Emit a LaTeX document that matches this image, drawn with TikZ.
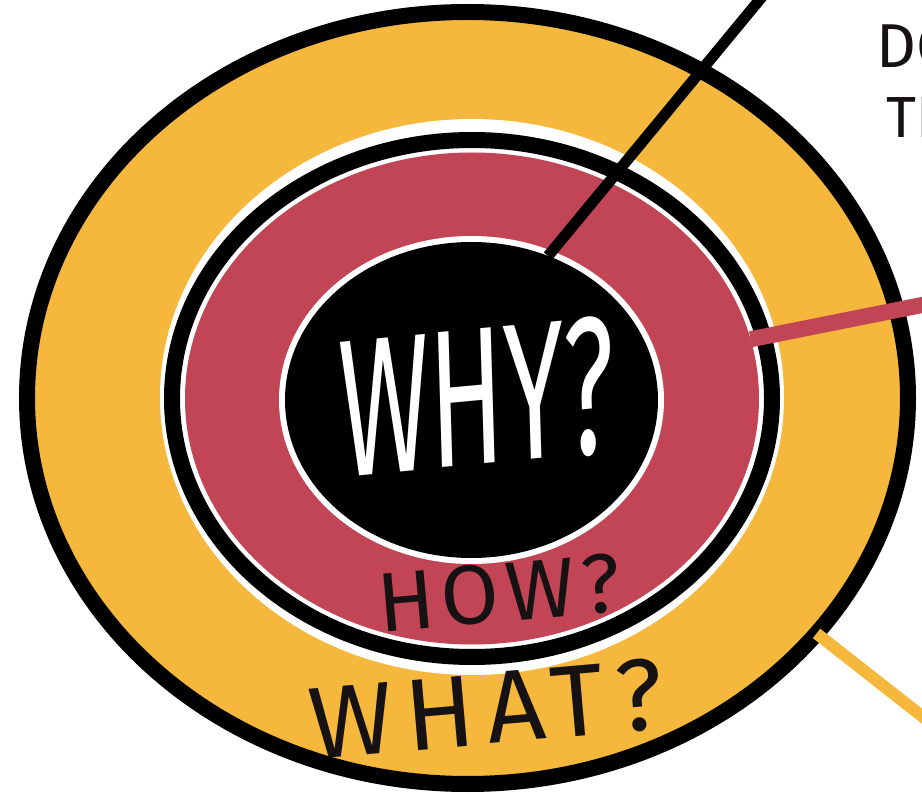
\documentclass[tikz,border=0pt]{standalone}
\usepackage{fontspec}
\setmainfont{Fira Sans}
\usetikzlibrary{shapes.geometric}
\definecolor{whatcolor}{HTML}{F6B83C}
\definecolor{howcolor}{HTML}{C24556}
\definecolor{inkcolor}{HTML}{161213}

\begin{document}
\begin{tikzpicture}[x=1pt, y=-1pt,
    ring/.style={ellipse, inner sep=0pt, outer sep=0pt},
    rim/.style={draw=black, line width=16pt},
    lbl/.style={inkcolor, inner sep=0pt}]
  \useasboundingbox (0,0) rectangle (922,794);
  \clip (0,0) rectangle (922,794);
  % rings, from outside in
  \node[ring, rim, fill=whatcolor, minimum width=881pt, minimum height=772pt] (what) at (467.5,398) {};
  \node[ring, fill=white, minimum width=624pt, minimum height=556pt] (gapout) at (472,397) {};
  \node[ring, rim, fill=white, minimum width=600pt, minimum height=517pt] (howrim) at (472,398.5) {};
  \node[ring, fill=howcolor, minimum width=574pt, minimum height=492pt] (how) at (472,398.5) {};
  \node[ring, fill=white, minimum width=385pt, minimum height=328pt] (gapin) at (471.5,400) {};
  \node[ring, fill=black, minimum width=373pt, minimum height=316pt] (why) at (471.5,400) {};
  % leader lines
  \coordinate (whyend) at (766,-8);
  \coordinate (howend) at (932,303);
  \coordinate (whatend) at (932,724);
  \draw[line width=11pt] (why.62) -- (whyend);
  \draw[howcolor, line width=16pt] (how.12) -- (howend);
  \draw[whatcolor, line width=12pt] (what.-34) -- (whatend);
  % labels
  \node[lbl, white, font=\fontsize{196}{196}\selectfont, xscale=0.56, rotate=3] (whylbl) at (477,397) {WHY?};
  \node[lbl, font=\fontsize{84}{84}\selectfont\addfontfeatures{LetterSpace=8}, rotate=5] (howlbl) at (499,593) {HOW?};
  \node[lbl, font=\fontsize{102}{102}\selectfont\addfontfeatures{LetterSpace=12}, rotate=5] (whatlbl) at (486,709) {WHAT?};
  \node[lbl, anchor=west, font=\fontsize{62}{62}\selectfont] (dolbl) at (876,46) {DO};
  \node[lbl, anchor=west, font=\fontsize{58}{58}\selectfont] (thlbl) at (886,118) {TH};
\end{tikzpicture}
\end{document}
